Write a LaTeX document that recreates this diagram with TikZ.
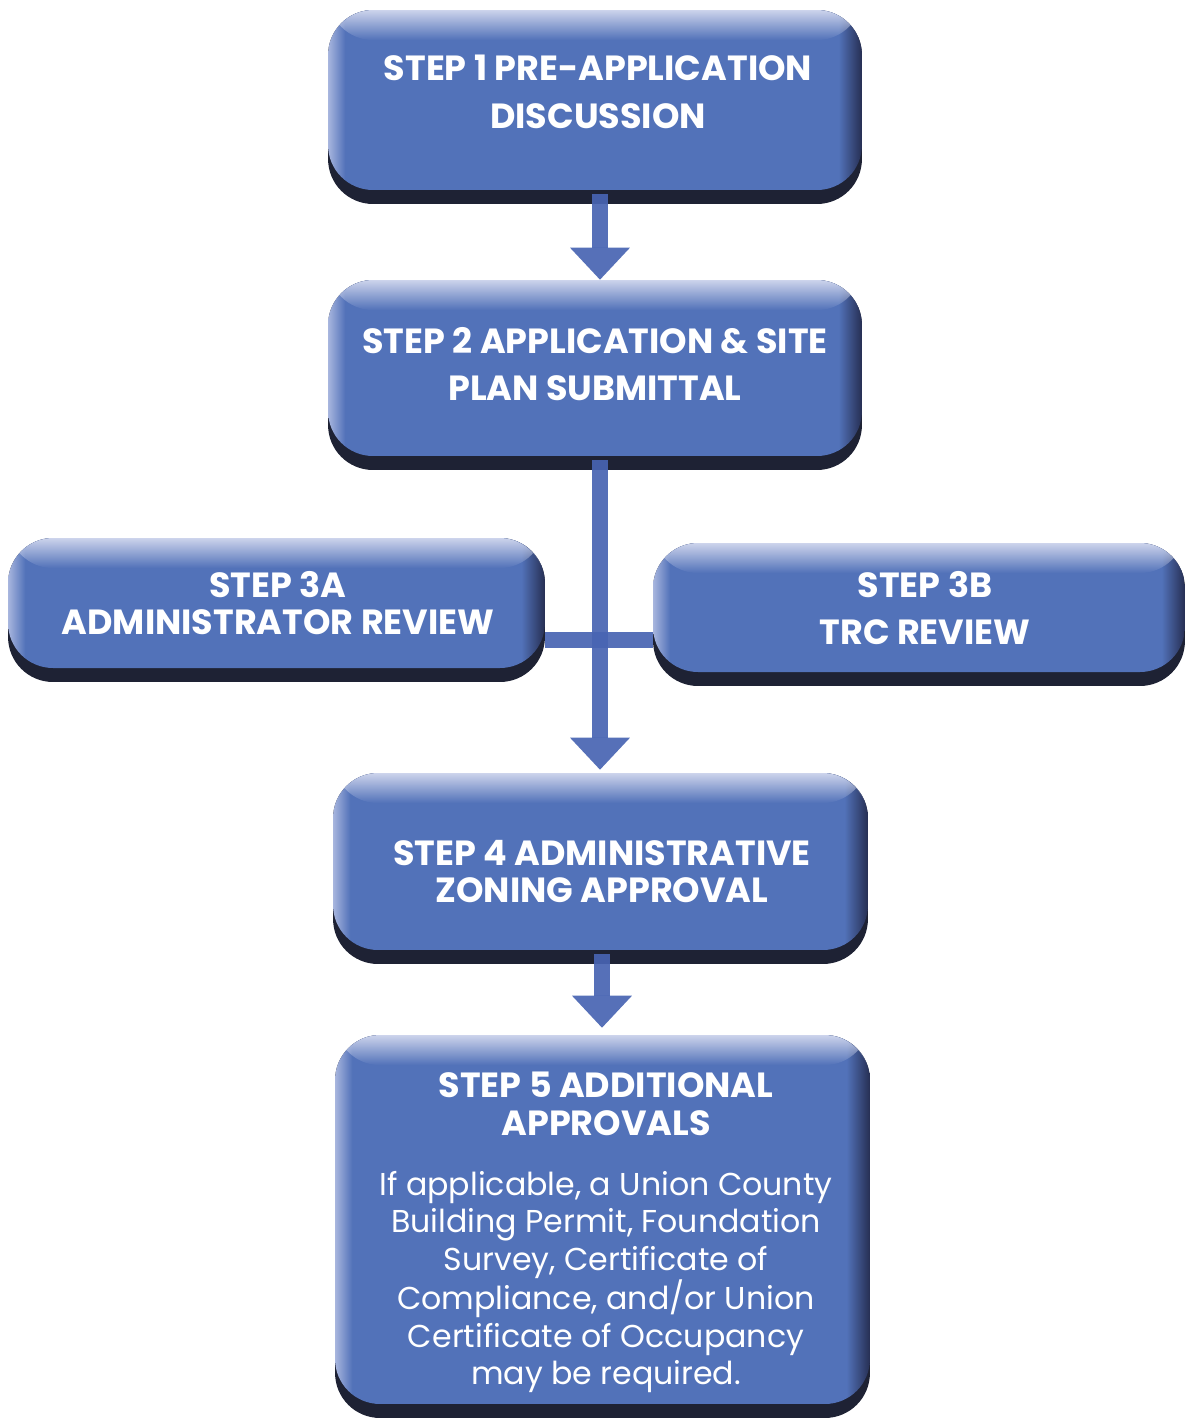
\documentclass[tikz,border=0pt]{standalone}
\usepackage{fontspec}
\setmainfont{Poppins}
\usetikzlibrary{arrows.meta,fadings}

\definecolor{boxblue}{RGB}{82,114,185}
\definecolor{boxedge}{RGB}{168,182,222}
\definecolor{boxdark}{RGB}{38,46,82}
\definecolor{boxbase}{RGB}{30,34,52}
\definecolor{boxtop}{RGB}{205,212,236}
\definecolor{flowblue}{RGB}{72,100,178}

\pgfdeclarehorizontalshading{boxface}{100bp}{color(0bp)=(boxedge); color(25bp)=(boxedge);
  color(26.6bp)=(boxblue); color(72.8bp)=(boxblue); color(75bp)=(boxdark); color(100bp)=(boxdark)}
\tikzfading[name=topglow, top color=transparent!0, bottom color=transparent!100]

\begin{document}
\begin{tikzpicture}[x=0.02cm,y=-0.02cm,
  stepbox/.style={rounded corners=0.9cm, fill=boxbase, inner sep=0pt,
    path picture={
      \shade[shading=boxface] (path picture bounding box.north west)
        rectangle ([yshift=0.28cm]path picture bounding box.south east);
      \fill[boxtop, path fading=topglow] (path picture bounding box.north west)
        rectangle ([yshift=-0.6cm]path picture bounding box.north east);
    }},
  title/.style={text=white, align=center, font=\fontsize{19.9}{27}\selectfont\bfseries},
  tight/.style={font=\fontsize{19.9}{21.5}\selectfont\bfseries},
  body/.style={text=white, align=center, font=\fontsize{18}{21.2}\selectfont},
  flow/.style={line width=0.32cm, draw=flowblue, opacity=0.92,
    -{Triangle[width=1.2cm,length=0.64cm,line width=0pt]}}]
  \useasboundingbox (0,0) rectangle (1185,1418);

  % boxes
  \node[stepbox, minimum width=10.68cm, minimum height=3.88cm] (step1) at (595,107) {};
  \node[stepbox, minimum width=10.68cm, minimum height=3.80cm] (step2) at (595,375) {};
  \node[stepbox, minimum width=10.74cm, minimum height=2.88cm] (step3a) at (276.5,610) {};
  \node[stepbox, minimum width=10.64cm, minimum height=2.86cm] (step3b) at (919,614.5) {};
  \node[stepbox, minimum width=10.70cm, minimum height=3.82cm] (step4) at (600.5,868.5) {};
  \node[stepbox, minimum width=10.70cm, minimum height=7.66cm] (step5) at (602.5,1226.5) {};

  % texts
  \node[title] (t1) at (598,92) {STEP 1 PRE-APPLICATION\\DISCUSSION};
  \node[title] (t2) at (595,364) {STEP 2 APPLICATION \& SITE\\PLAN SUBMITTAL};
  \node[title,tight] (t3a) at (278,603) {STEP 3A\\ADMINISTRATOR REVIEW};
  \node[title] (t3b) at (925,608) {STEP 3B\\TRC REVIEW};
  \node[title,tight] (t4) at (602,871.5) {STEP 4 ADMINISTRATIVE\\ZONING APPROVAL};
  \node[title,tight] (t5) at (606,1103.5) {STEP 5 ADDITIONAL\\APPROVALS};
  \node[body] (t5b) at (606,1282) {If applicable, a Union County\\Building Permit, Foundation\\Survey, Certificate of\\Compliance, and/or Union\\Certificate of Occupancy\\may be required.};

  % connectors
  \coordinate (cross) at (600,640);
  \draw[flow] ([yshift=0.2cm]step1.south -| cross) -- (step2.north -| cross);
  \draw[flow] ([yshift=0.2cm]step2.south -| cross) -- ([yshift=0.06cm]step4.north -| cross);
  \draw[line width=0.32cm, draw=flowblue, opacity=0.92] (step3a.east |- cross) -- (step3b.west |- cross);
  \draw[flow] ([yshift=0.2cm]step4.south -| 602,0) -- ([yshift=0.14cm]step5.north -| 602,0);
\end{tikzpicture}
\end{document}
